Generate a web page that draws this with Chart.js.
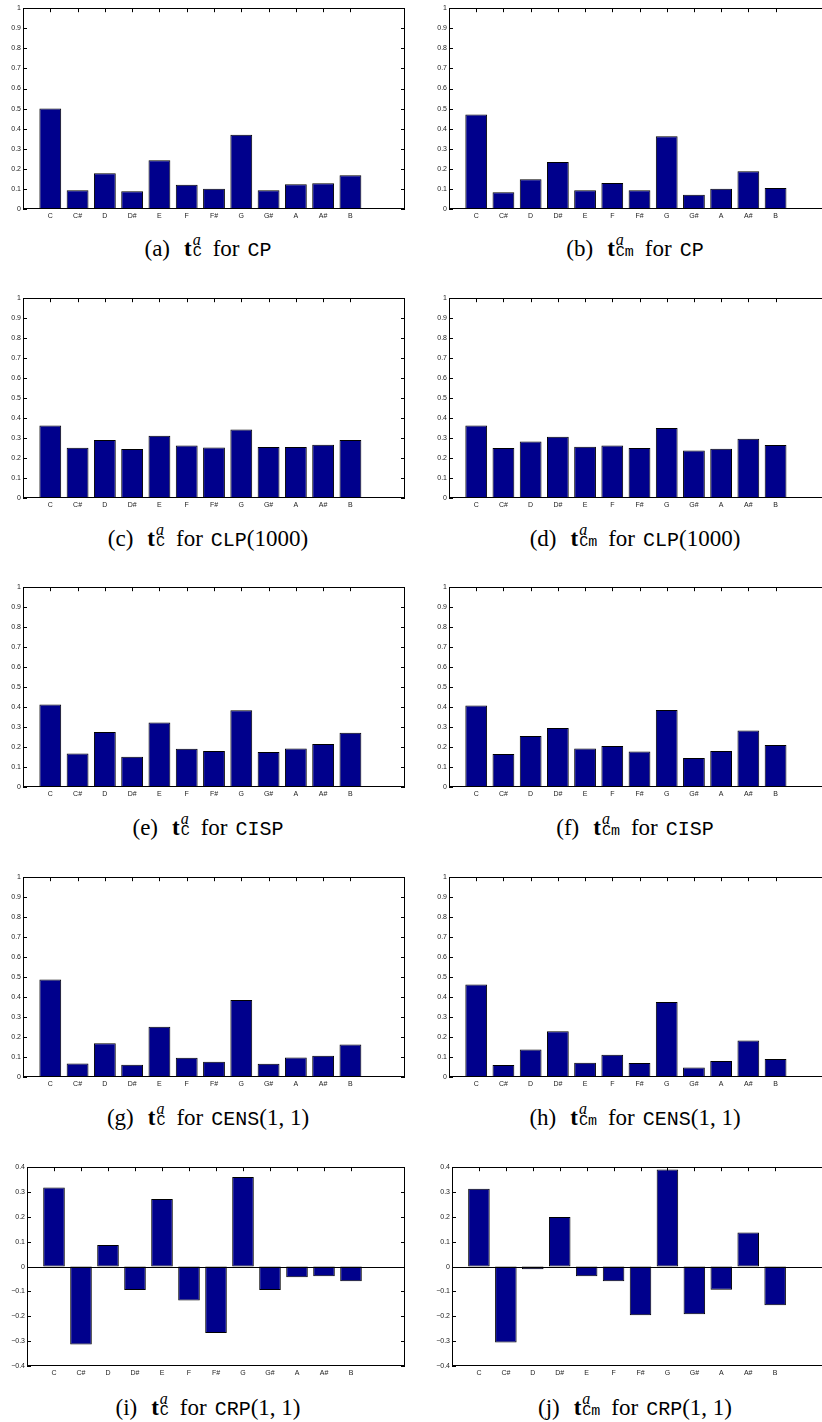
<!DOCTYPE html>
<html>
<head>
<meta charset="utf-8">
<script src="https://cdn.jsdelivr.net/npm/chart.js@4/dist/chart.umd.min.js"></script>
<style>
  html, body { margin: 0; padding: 0; width: 822px; height: 1422px; overflow: hidden; background: #fff; }
  .panel { position: absolute; }
  .cap { position: absolute; width: 400px; height: 30px; line-height: 30px; text-align: center;
         font-family: "Liberation Serif", serif; font-size: 23px; color: #000; white-space: nowrap; }
  .cap .tt { font-family: "Liberation Mono", monospace; font-size: 20px; }
  .cap .vec { font-weight: bold; margin-left: 14px; }
  .cap .for { margin-left: 10px; margin-right: 8px; }
  .sc { display: inline-block; position: relative; height: 0; }
  .sc .sup { position: absolute; left: 1px; bottom: 8px; font-style: italic; font-size: 16px; line-height: 1; }
  .sc .sub { position: absolute; left: 1px; bottom: -4px; font-family: "Liberation Mono", monospace; font-size: 15px; line-height: 1; }
</style>
</head>
<body>
<script>
const noteNames = ['C', 'C#', 'D', 'D#', 'E', 'F', 'F#', 'G', 'G#', 'A', 'A#', 'B'];
const yTicksUnit = [0, 0.1, 0.2, 0.3, 0.4, 0.5, 0.6, 0.7, 0.8, 0.9, 1];
const yTicksSigned = [-0.4, -0.3, -0.2, -0.1, 0, 0.1, 0.2, 0.3, 0.4];

// template weights
const cpMajor   = [0.500, 0.093, 0.178, 0.088, 0.243, 0.121, 0.101, 0.370, 0.093, 0.123, 0.128, 0.168];
const cpMinor   = [0.470, 0.083, 0.148, 0.234, 0.093, 0.130, 0.093, 0.362, 0.071, 0.101, 0.188, 0.105];
const clpMajor  = [0.363, 0.252, 0.290, 0.245, 0.312, 0.263, 0.253, 0.343, 0.255, 0.255, 0.267, 0.290];
const clpMinor  = [0.363, 0.250, 0.283, 0.307, 0.257, 0.263, 0.250, 0.350, 0.238, 0.247, 0.297, 0.265];
const cispMajor = [0.413, 0.168, 0.275, 0.151, 0.323, 0.191, 0.180, 0.384, 0.175, 0.193, 0.215, 0.271];
const cispMinor = [0.408, 0.165, 0.255, 0.295, 0.193, 0.205, 0.178, 0.386, 0.145, 0.180, 0.283, 0.210];
const censMajor = [0.488, 0.068, 0.169, 0.061, 0.251, 0.096, 0.076, 0.385, 0.066, 0.098, 0.106, 0.163];
const censMinor = [0.463, 0.060, 0.138, 0.229, 0.071, 0.111, 0.070, 0.375, 0.047, 0.080, 0.183, 0.090];
const crpMajor  = [0.318, -0.313, 0.087, -0.094, 0.272, -0.136, -0.267, 0.361, -0.094, -0.043, -0.039, -0.059];
const crpMinor  = [0.313, -0.305, -0.011, 0.200, -0.039, -0.059, -0.196, 0.391, -0.192, -0.093, 0.137, -0.156];

const panels = [
  { letter: 'a', key: 'C',  method: 'CP',   args: '',       values: cpMajor,   ticks: yTicksUnit },
  { letter: 'b', key: 'Cm', method: 'CP',   args: '',       values: cpMinor,   ticks: yTicksUnit },
  { letter: 'c', key: 'C',  method: 'CLP',  args: '(1000)', values: clpMajor,  ticks: yTicksUnit },
  { letter: 'd', key: 'Cm', method: 'CLP',  args: '(1000)', values: clpMinor,  ticks: yTicksUnit },
  { letter: 'e', key: 'C',  method: 'CISP', args: '',       values: cispMajor, ticks: yTicksUnit },
  { letter: 'f', key: 'Cm', method: 'CISP', args: '',       values: cispMinor, ticks: yTicksUnit },
  { letter: 'g', key: 'C',  method: 'CENS', args: '(1, 1)', values: censMajor, ticks: yTicksUnit },
  { letter: 'h', key: 'Cm', method: 'CENS', args: '(1, 1)', values: censMinor, ticks: yTicksUnit },
  { letter: 'i', key: 'C',  method: 'CRP',  args: '(1, 1)', values: crpMajor,  ticks: yTicksSigned },
  { letter: 'j', key: 'Cm', method: 'CRP',  args: '(1, 1)', values: crpMinor,  ticks: yTicksSigned }
];

// plot box of each panel: left, top, width, height
const frames = [
  [23, 8, 382, 201],   [449, 8, 381, 201],
  [23, 298, 382, 200], [449, 298, 381, 200],
  [23, 587, 382, 200], [449, 587, 381, 200],
  [23, 877, 382, 200], [449, 877, 381, 200],
  [27, 1167, 378, 199], [452, 1167, 377, 199]
];
const capCenters = [208, 635];

const AXIS_W = 30, AXIS_H = 20, PAD_TOP = 6, PAD_RIGHT = 4;

const fmtTick = v => String(Math.round(v * 10) / 10).replace('-', '\u2212');

// matlab style box, inward ticks and zero line
const matlabAxes = {
  id: 'matlabAxes',
  beforeDatasetsDraw(chart) {
    const { ctx, chartArea: a, scales: { x, y } } = chart;
    ctx.save();
    ctx.strokeStyle = '#000';
    ctx.lineWidth = 1;
    ctx.beginPath();
    y.ticks.forEach(t => {
      const py = Math.round(y.getPixelForValue(t.value)) + 0.5;
      ctx.moveTo(a.left, py); ctx.lineTo(a.left + 4, py);
      ctx.moveTo(a.right, py); ctx.lineTo(a.right - 4, py);
    });
    x.ticks.forEach(t => {
      const px = Math.round(x.getPixelForValue(t.value)) + 0.5;
      ctx.moveTo(px, a.top); ctx.lineTo(px, a.top + 4);
    });
    ctx.stroke();
    ctx.restore();
  },
  afterDatasetsDraw(chart) {
    const { ctx, chartArea: a, scales: { y } } = chart;
    ctx.save();
    ctx.strokeStyle = '#000';
    ctx.lineWidth = 1;
    const l = Math.round(a.left) + 0.5, t = Math.round(a.top) + 0.5;
    const r = Math.round(a.right) - 0.5, b = Math.round(a.bottom) - 0.5;
    ctx.strokeRect(l, t, r - l, b - t);
    if (y.min < 0) {
      const zy = Math.round(y.getPixelForValue(0)) + 0.5;
      ctx.beginPath();
      ctx.moveTo(l, zy); ctx.lineTo(r, zy);
      ctx.stroke();
    }
    ctx.restore();
  }
};

const labelFont = { family: '"Liberation Sans", Arial, sans-serif', size: 7 };

panels.forEach((p, i) => {
  const [left, top, w, h] = frames[i];
  const canvas = document.createElement('canvas');
  canvas.className = 'panel';
  canvas.width = AXIS_W + w + PAD_RIGHT;
  canvas.height = PAD_TOP + h + AXIS_H;
  canvas.style.left = (left - AXIS_W) + 'px';
  canvas.style.top = (top - PAD_TOP) + 'px';
  document.body.appendChild(canvas);

  const ticks = p.ticks;
  new Chart(canvas, {
    type: 'bar',
    data: {
      datasets: [{
        data: p.values.map((v, k) => ({ x: k + 1, y: v })),
        backgroundColor: '#00008C',
        borderColor: '#000',
        borderWidth: 1,
        borderSkipped: false,
        barPercentage: 0.8,
        categoryPercentage: 1
      }]
    },
    options: {
      responsive: false,
      animation: false,
      devicePixelRatio: 1,
      layout: { padding: { top: PAD_TOP, right: PAD_RIGHT, left: 0, bottom: 0 } },
      plugins: { legend: { display: false }, tooltip: { enabled: false } },
      scales: {
        x: {
          type: 'linear', min: 0, max: noteNames.length + 2, offset: false,
          grid: { display: false, drawTicks: false },
          border: { display: false },
          afterBuildTicks: s => { s.ticks = noteNames.map((n, k) => ({ value: k + 1 })); },
          afterFit: s => { s.height = AXIS_H; },
          ticks: {
            autoSkip: false, maxRotation: 0, padding: 3, color: '#222', font: labelFont,
            callback: v => noteNames[Math.round(v) - 1]
          }
        },
        y: {
          min: ticks[0], max: ticks[ticks.length - 1],
          grid: { display: false, drawTicks: false },
          border: { display: false },
          afterBuildTicks: s => { s.ticks = ticks.map(v => ({ value: v })); },
          afterFit: s => { s.width = AXIS_W; },
          ticks: { padding: 2, color: '#222', font: labelFont, callback: v => fmtTick(v) }
        }
      }
    },
    plugins: [matlabAxes]
  });

  const cap = document.createElement('div');
  cap.className = 'cap';
  cap.style.left = (capCenters[i % 2] - 200) + 'px';
  cap.style.top = (top + 241 - 15) + 'px';
  cap.innerHTML = '(' + p.letter + ')<span class="vec">t</span>' +
    '<span class="sc" style="width:' + (p.key.length * 9 + 2) + 'px"><span class="sup">a</span><span class="sub">' + p.key + '</span></span>' +
    '<span class="for">for</span><span class="tt">' + p.method + '</span>' + p.args;
  document.body.appendChild(cap);
});
</script>
</body>
</html>
